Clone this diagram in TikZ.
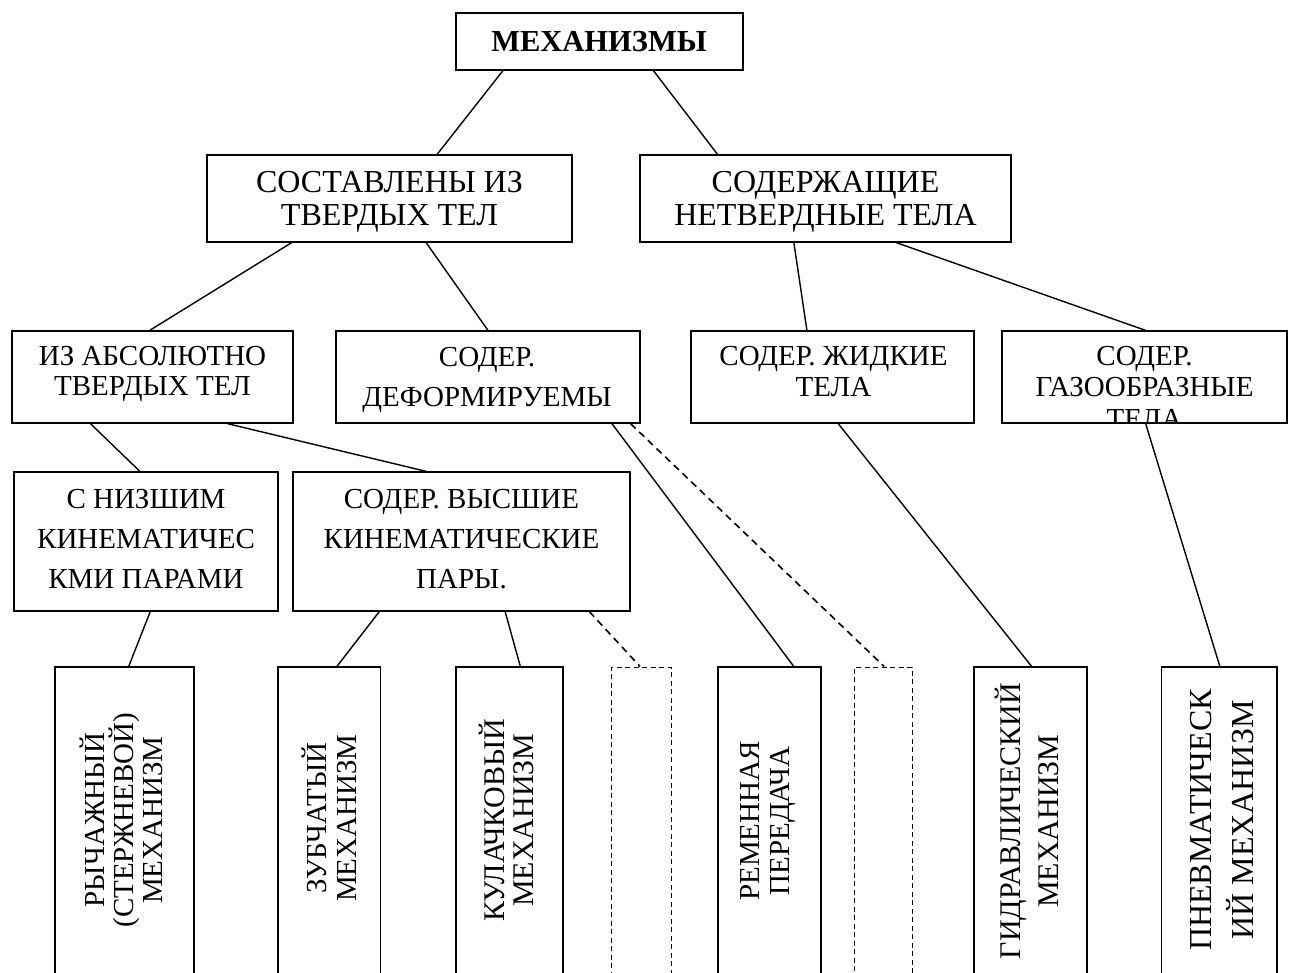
\documentclass[tikz,border=0pt]{standalone}
\usepackage{fontspec}
\setmainfont{Liberation Serif}
\usetikzlibrary{calc}
\tikzset{
  box/.style={draw, line width=1.2pt, inner sep=0pt, rectangle},
  dbox/.style={draw, line width=1pt, dash pattern=on 5pt off 3.5pt, inner sep=0pt, rectangle},
  conn/.style={line width=1.4pt},
  dconn/.style={line width=1.6pt, dash pattern=on 7pt off 5pt},
  txt/.style={inner sep=0pt, align=center, anchor=base, font=\fontsize{29}{#1}\selectfont},
  rtxt/.style={inner sep=0pt, align=center, rotate=90, font=\fontsize{29}{#1}\selectfont},
}
\begin{document}
\begin{tikzpicture}[x=1pt,y=-1pt]
\useasboundingbox (0,0) rectangle (1290,972);
\clip (0,0) rectangle (1290,972);
% boxes
\node[box, minimum width=287pt, minimum height=57pt] (top) at (599.5,41.5) {};
\node[box, minimum width=365pt, minimum height=87pt] (sost) at (389.5,198.5) {};
\node[box, minimum width=371pt, minimum height=87pt] (sod) at (825.5,198.5) {};
\node[box, minimum width=281pt, minimum height=92pt] (abs) at (152.5,377) {};
\node[box, minimum width=304pt, minimum height=92pt] (def) at (488,377) {};
\node[box, minimum width=283pt, minimum height=92pt] (zhid) at (832.5,377) {};
\node[box, minimum width=285pt, minimum height=92pt] (gaz) at (1144.5,377) {};
\node[box, minimum width=264pt, minimum height=139pt] (nizsh) at (146,541.5) {};
\node[box, minimum width=337pt, minimum height=139pt] (vys) at (461.5,541.5) {};
\node[box, minimum width=139pt, minimum height=333pt] (rych) at (124.5,833.5) {};
\node[box, minimum width=102.5pt, minimum height=333pt] (zub) at (329.25,833.5) {};
\node[box, minimum width=107pt, minimum height=333pt] (kul) at (509.5,833.5) {};
\node[dbox, minimum width=59.5pt, minimum height=333pt] (dash1) at (641.25,833.5) {};
\node[box, minimum width=103pt, minimum height=333pt] (rem) at (769.5,833.5) {};
\node[dbox, minimum width=58pt, minimum height=333pt] (dash2) at (883,833.5) {};
\node[box, minimum width=113pt, minimum height=333pt] (gidr) at (1030.5,833.5) {};
\node[box, minimum width=115.5pt, minimum height=333pt] (pnev) at (1219.25,833.5) {};
% texts (anchor base = baseline of last line)
\node[txt=31, font=\fontsize{30.5}{31}\selectfont\bfseries] (ttop) at (599,51.7) {МЕХАНИЗМЫ};
\node[txt=33, font=\fontsize{32}{33}\selectfont] (tsost) at (389.5,225) {СОСТАВЛЕНЫ ИЗ\\ТВЕРДЫХ ТЕЛ};
\node[txt=33, font=\fontsize{32}{33}\selectfont] (tsod) at (825.5,225) {СОДЕРЖАЩИЕ\\НЕТВЕРДНЫЕ ТЕЛА};
\node[txt=30] (tabs) at (152.5,395) {ИЗ АБСОЛЮТНО\\ТВЕРДЫХ ТЕЛ};
\node[txt=40] (tdef) at (487,406.7) {СОДЕР.\\ДЕФОРМИРУЕМЫ};
\node[txt=31] (tzhid) at (833.5,396) {СОДЕР. ЖИДКИЕ\\ТЕЛА};
\begin{scope}
\clip (gaz.south west) rectangle (gaz.north east);
\node[txt=31.5] (tgaz) at (1144.5,428) {СОДЕР.\\ГАЗООБРАЗНЫЕ\\ТЕЛА};
\end{scope}
\node[txt=40] (tnizsh) at (146,588) {С НИЗШИМ\\КИНЕМАТИЧЕС\\КМИ ПАРАМИ};
\node[txt=40] (tvys) at (461.5,588) {СОДЕР. ВЫСШИЕ\\КИНЕМАТИЧЕСКИЕ\\ПАРЫ.};
\node[rtxt=29] (trych) at (121,820) {РЫЧАЖНЫЙ\\(СТЕРЖНЕВОЙ)\\МЕХАНИЗМ};
\node[rtxt=30] (tzub) at (329.5,818) {ЗУБЧАТЫЙ\\МЕХАНИЗМ};
\node[rtxt=29, font=\fontsize{30}{29}\selectfont] (tkul) at (506,820) {КУЛАЧКОВЫЙ\\МЕХАНИЗМ};
\node[rtxt=29.5] (trem) at (767.8,821) {РЕМЕННАЯ\\ПЕРЕДАЧА};
\node[rtxt=38, font=\fontsize{30}{38}\selectfont] (tgidr) at (1027,821) {ГИДРАВЛИЧЕСКИЙ\\МЕХАНИЗМ};
\node[rtxt=42, font=\fontsize{32}{42}\selectfont] (tpnev) at (1222.5,820) {ПНЕВМАТИЧЕСК\\ИЙ МЕХАНИЗМ};
% connector end points
\coordinate (c1a) at ($(top.south west)!0.165!(top.south east)$);
\coordinate (c1b) at ($(sost.north west)!0.63!(sost.north east)$);
\coordinate (c2a) at ($(top.south west)!0.687!(top.south east)$);
\coordinate (c2b) at ($(sod.north west)!0.21!(sod.north east)$);
\coordinate (c3a) at ($(sost.south west)!0.233!(sost.south east)$);
\coordinate (c3b) at ($(abs.north west)!0.49!(abs.north east)$);
\coordinate (c4a) at ($(sost.south west)!0.60!(sost.south east)$);
\coordinate (c4b) at ($(def.north west)!0.50!(def.north east)$);
\coordinate (c5a) at ($(sod.south west)!0.415!(sod.south east)$);
\coordinate (c5b) at ($(zhid.north west)!0.41!(zhid.north east)$);
\coordinate (c6a) at ($(sod.south west)!0.69!(sod.south east)$);
\coordinate (c6b) at ($(gaz.north west)!0.504!(gaz.north east)$);
\coordinate (c7a) at ($(abs.south west)!0.28!(abs.south east)$);
\coordinate (c7b) at ($(nizsh.north west)!0.477!(nizsh.north east)$);
\coordinate (c8a) at ($(abs.south west)!0.765!(abs.south east)$);
\coordinate (c8b) at ($(vys.north west)!0.396!(vys.north east)$);
\coordinate (c9a) at ($(def.south west)!0.906!(def.south east)$);
\coordinate (c9b) at ($(rem.north west)!0.733!(rem.north east)$);
\coordinate (c10a) at ($(def.south west)!0.967!(def.south east)$);
\coordinate (c10b) at ($(dash2.north west)!0.52!(dash2.north east)$);
\coordinate (c11a) at ($(nizsh.south west)!0.516!(nizsh.south east)$);
\coordinate (c11b) at ($(rych.north west)!0.53!(rych.north east)$);
\coordinate (c12a) at ($(vys.south west)!0.257!(vys.south east)$);
\coordinate (c12b) at ($(zub.north west)!0.574!(zub.north east)$);
\coordinate (c13a) at ($(vys.south west)!0.629!(vys.south east)$);
\coordinate (c13b) at ($(kul.north west)!0.60!(kul.north east)$);
\coordinate (c14a) at ($(vys.south west)!0.878!(vys.south east)$);
\coordinate (c14b) at ($(dash1.north west)!0.48!(dash1.north east)$);
\coordinate (c15a) at ($(zhid.south west)!0.52!(zhid.south east)$);
\coordinate (c15b) at ($(gidr.north west)!0.51!(gidr.north east)$);
\coordinate (c16a) at ($(gaz.south west)!0.504!(gaz.south east)$);
\coordinate (c16b) at ($(pnev.north west)!0.505!(pnev.north east)$);
% connectors
\draw[conn] (c1a) -- (c1b);
\draw[conn] (c2a) -- (c2b);
\draw[conn] (c3a) -- (c3b);
\draw[conn] (c4a) -- (c4b);
\draw[conn] (c5a) -- (c5b);
\draw[conn] (c6a) -- (c6b);
\draw[conn] (c7a) -- (c7b);
\draw[conn] (c8a) -- (c8b);
\draw[conn] (c9a) -- (c9b);
\draw[dconn] (c10a) -- (c10b);
\draw[conn] (c11a) -- (c11b);
\draw[conn] (c12a) -- (c12b);
\draw[conn] (c13a) -- (c13b);
\draw[dconn] (c14a) -- (c14b);
\draw[conn] (c15a) -- (c15b);
\draw[conn] (c16a) -- (c16b);
\end{tikzpicture}
\end{document}
